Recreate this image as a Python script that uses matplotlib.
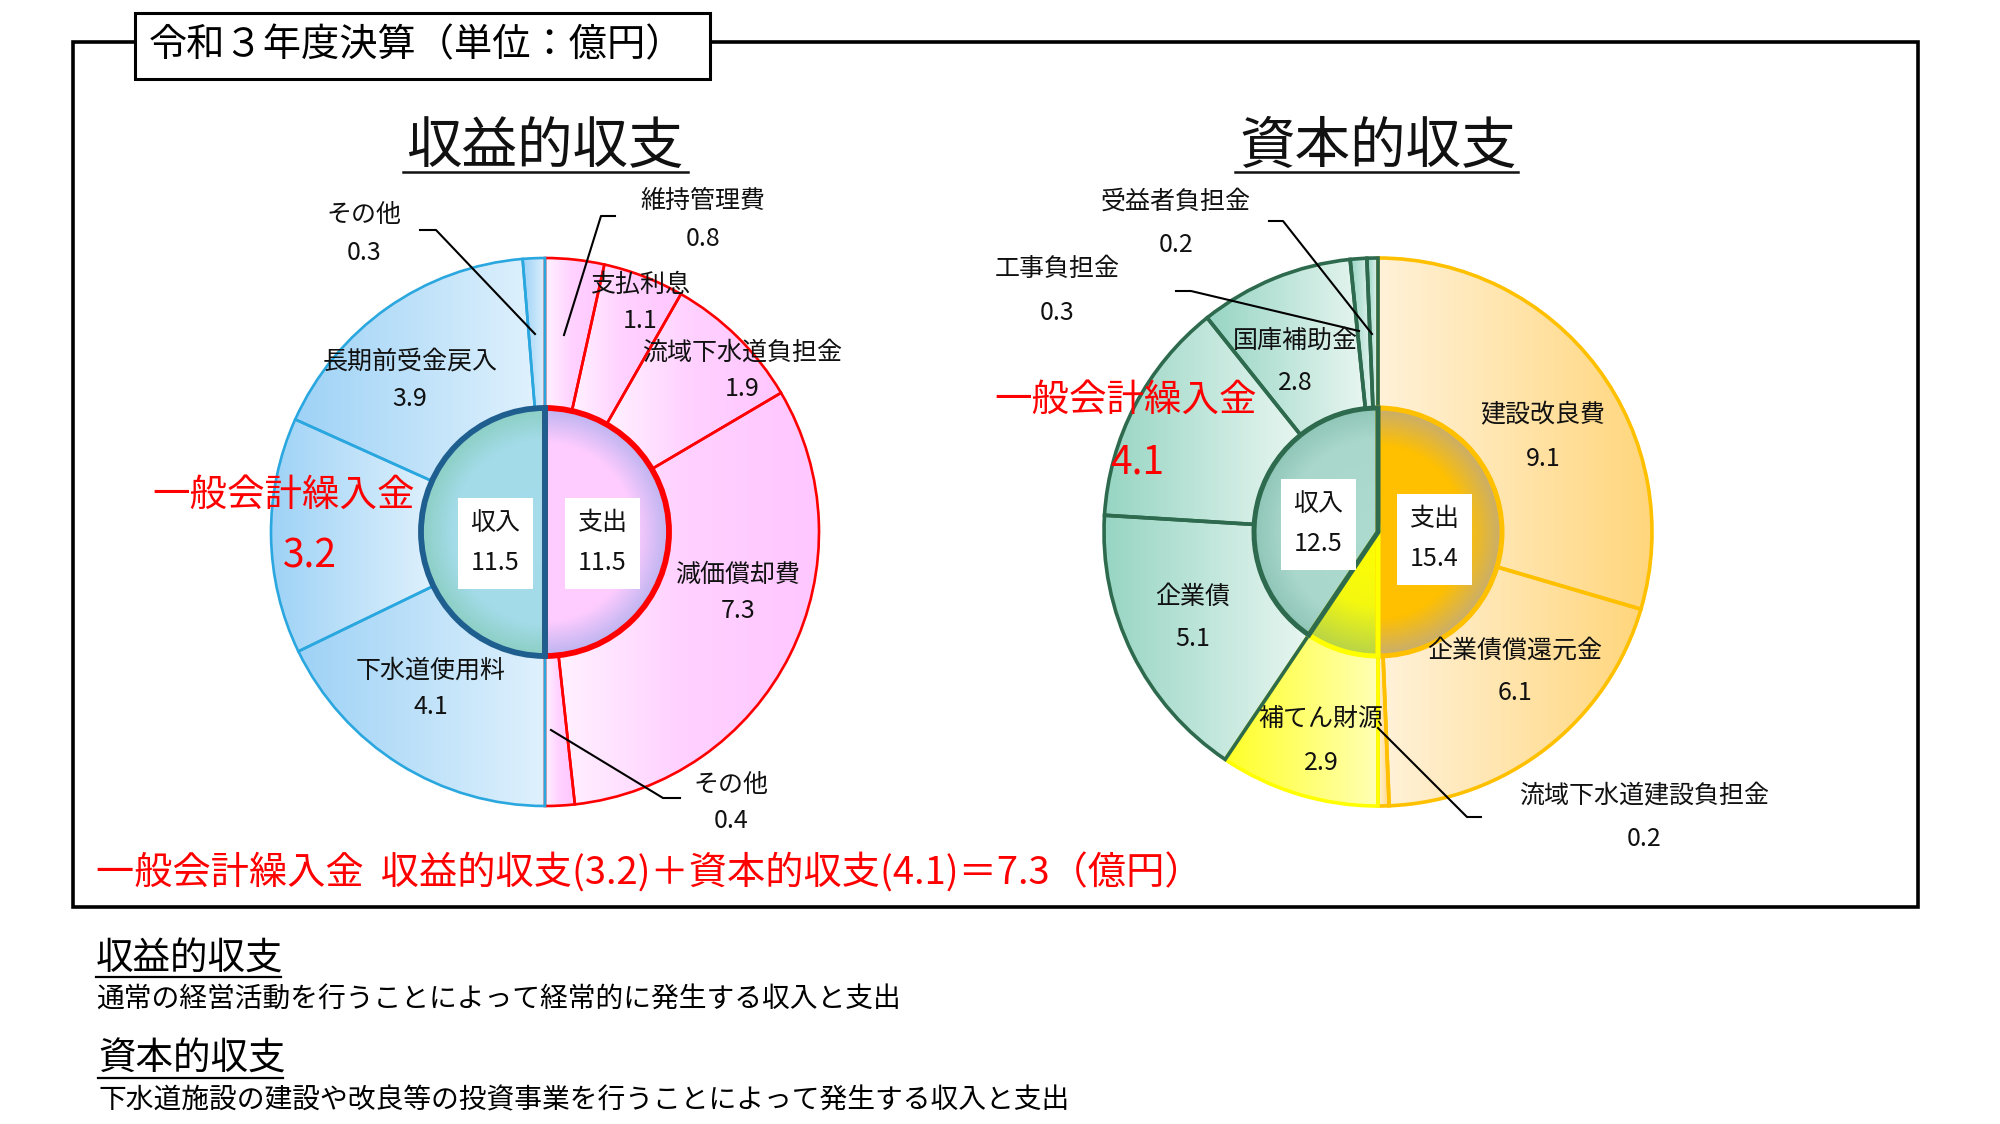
import numpy as np
import matplotlib
matplotlib.use("Agg")
import matplotlib.pyplot as plt
from matplotlib.colors import LinearSegmentedColormap
from matplotlib.patches import Rectangle

plt.rcParams['font.family'] = ['Noto Sans CJK JP', 'DejaVu Sans']

# 令和3年度決算（単位：億円）
# 収益的収支
rev_out_names = ['維持管理費', '支払利息', '流域下水道負担金', '減価償却費', 'その他']
rev_out_vals = [0.8, 1.1, 1.9, 7.3, 0.4]
rev_in_names = ['下水道使用料', '一般会計繰入金', '長期前受金戻入', 'その他']
rev_in_vals = [4.1, 3.2, 3.9, 0.3]

# 資本的収支
cap_out_names = ['建設改良費', '企業債償還元金', '流域下水道建設負担金']
cap_out_vals = [9.1, 6.1, 0.2]
cap_fill_name = '補てん財源'
cap_fill_val = 2.9
cap_in_names = ['企業債', '一般会計繰入金', '国庫補助金', '工事負担金', '受益者負担金']
cap_in_vals = [5.1, 4.1, 2.8, 0.3, 0.2]

W, H = 2000, 1124
R_OUT, R_IN = 274, 124
C1 = (545, 532)
C2 = (1378, 532)

fig = plt.figure(figsize=(W / 100, H / 100), dpi=100)
ax = fig.add_axes([0, 0, 1, 1])


def fill_gradient(patch, colors, radial=None, z=2):
    bb = patch.get_path().get_extents()
    cmap = LinearSegmentedColormap.from_list('g', colors)
    if radial is None:
        arr = np.linspace(0, 1, 256)[None, :]
    else:
        cx, cy, r = radial
        X, Y = np.meshgrid(np.linspace(bb.x0, bb.x1, 200), np.linspace(bb.y0, bb.y1, 200))
        arr = np.clip(np.hypot(X - cx, Y - cy) / r, 0, 1)
    im = ax.imshow(arr, cmap=cmap, vmin=0, vmax=1, origin='lower',
                   extent=(bb.x0, bb.x1, bb.y0, bb.y1), aspect='auto',
                   interpolation='bilinear', zorder=z)
    im.set_clip_path(patch)
    patch.set_facecolor('none')
    patch.set_zorder(z + 0.5)


def ring(center, vals, fills, edges, lw):
    # y axis is inverted, so startangle -90 + counterclock draws clockwise from 12 o'clock
    wedges, _ = ax.pie(vals, center=center, radius=R_OUT, startangle=-90, counterclock=True,
                       wedgeprops=dict(width=R_OUT - R_IN, linewidth=lw), frame=True)
    for w, f, e in zip(wedges, fills, edges):
        w.set_edgecolor(e)
        fill_gradient(w, f, z=2)
    return wedges


def disc(center, vals, fills, edges, lw):
    wedges, _ = ax.pie(vals, center=center, radius=R_IN, startangle=-90, counterclock=True,
                       wedgeprops=dict(linewidth=lw), frame=True)
    for w, f, e in zip(wedges, fills, edges):
        w.set_edgecolor(e)
        fill_gradient(w, f, radial=(center[0], center[1], R_IN), z=4)
    return wedges


BLUE = ['#9ed2f6', '#dff1fd']
PINK = [(0, '#fff2ff'), (0.45, '#ffd2ff'), (1, '#ffc6ff')]
TEAL = ['#97d5c3', '#e8f6f1']
ORANGE = ['#fff2d9', '#ffd67c']
YELLOW = ['#ffff28', '#ffffb4']

# ---- 収益的収支 ----
ring(C1, rev_out_vals + rev_in_vals,
     [PINK] * len(rev_out_vals) + [BLUE] * len(rev_in_vals),
     ['#ff0000'] * len(rev_out_vals) + ['#2aa7df'] * len(rev_in_vals), 1.9)
disc(C1, [sum(rev_out_vals), sum(rev_in_vals)],
     [[(0, '#ffccff'), (0.72, '#ffccff'), (1, '#bdb4f0')],
      [(0, '#a6dcec'), (0.75, '#a3dbe8'), (1, '#8ccfc4')]],
     ['#ff0000', '#1f5f8f'], 4.2)

# ---- 資本的収支 ----
ring(C2, cap_out_vals + [cap_fill_val] + cap_in_vals,
     [ORANGE] * len(cap_out_vals) + [YELLOW] + [TEAL] * len(cap_in_vals),
     ['#ffc000'] * len(cap_out_vals) + ['#ffff00'] + ['#2e6a4e'] * len(cap_in_vals), 2.6)
disc(C2, [sum(cap_out_vals), cap_fill_val, sum(cap_in_vals)],
     [[(0, '#ffc000'), (0.7, '#ffc000'), (1, '#c9ae6e')],
      [(0, '#ffff00'), (0.6, '#f4f810'), (1, '#b8d448')],
      [(0, '#aedbd0'), (0.75, '#a9d7cb'), (1, '#8fc6b8')]],
     ['#ffc000', '#ffff00', '#2e6a4e'], 3.6)

# ---- labels ----
LBL = dict(fontsize=18, ha='center', va='center', multialignment='center', zorder=8, color='#111111')

rev_out_pos = [(703, 220), (640, 303), (742, 371), (738, 593), (731, 803)]
rev_in_pos = [(431, 689), None, (410, 380), (364, 234)]
for n, v, p in zip(rev_out_names + rev_in_names, rev_out_vals + rev_in_vals, rev_out_pos + rev_in_pos):
    if p is None:
        continue
    ax.text(p[0], p[1], f'{n}\n{v:.1f}', linespacing=1.55, **LBL)

cap_pos = [(1543, 437), (1515, 672), (1644, 818), (1321, 741),
           (1193, 618), None, (1295, 362), (1057, 291), (1176, 223)]
for n, v, p in zip(cap_out_names + [cap_fill_name] + cap_in_names,
                   cap_out_vals + [cap_fill_val] + cap_in_vals, cap_pos):
    if p is None:
        continue
    ax.text(p[0], p[1], f'{n}\n{v:.1f}', linespacing=1.85, **LBL)

# 一般会計繰入金 (red)
ax.text(284, 495, rev_in_names[1], fontsize=27, color='#ff0000', ha='center', va='center', zorder=8)
ax.text(310, 557, f'{rev_in_vals[1]:.1f}', fontsize=28, color='#ff0000', ha='center', va='center', zorder=8)
ax.text(1126, 400, cap_in_names[1], fontsize=27, color='#ff0000', ha='center', va='center', zorder=8)
ax.text(1137, 462, f'{cap_in_vals[1]:.1f}', fontsize=28, color='#ff0000', ha='center', va='center', zorder=8)

# centre boxes
BOX = dict(boxstyle='square,pad=0.5', fc='white', ec='none')
ax.text(495, 543, f'収入\n{sum(rev_in_vals):.1f}', linespacing=1.7, bbox=BOX, **LBL)
ax.text(602, 543, f'支出\n{sum(rev_out_vals):.1f}', linespacing=1.7, bbox=BOX, **LBL)
ax.text(1318, 524, f'収入\n{sum(cap_in_vals):.1f}', linespacing=1.7, bbox=BOX, **LBL)
ax.text(1434, 539, f'支出\n{sum(cap_out_vals):.1f}', linespacing=1.7, bbox=BOX, **LBL)

# leader lines
leaders = [
    [(420, 230), (436, 230), (535, 334)],
    [(615, 216), (601, 216), (564, 335)],
    [(551, 730), (663, 798), (680, 798)],
    [(1269, 221), (1283, 221), (1372, 334)],
    [(1176, 291), (1191, 291), (1359, 331)],
    [(1378, 728), (1467, 817), (1481, 817)],
]
for pts in leaders:
    xs, ys = zip(*pts)
    ax.plot(xs, ys, color='black', lw=1.5, zorder=7)

# titles
ax.text(545, 147, '収益的収支', fontsize=40, ha='center', va='center', color='#111111')
ax.plot([403, 688], [172, 172], color='#111111', lw=1.8)
ax.text(1378, 147, '資本的収支', fontsize=40, ha='center', va='center', color='#111111')
ax.plot([1235, 1518], [172, 172], color='#111111', lw=1.8)

# frames
ax.add_patch(Rectangle((73, 42), 1845, 865, fill=False, ec='black', lw=2.6, zorder=1))
ax.add_patch(Rectangle((135, 13), 575, 66, fc='white', ec='black', lw=2.2, zorder=9))
ax.text(416, 46, '令和３年度決算（単位：億円）', fontsize=27.5, ha='center', va='center', zorder=10)

# bottom notes
ax.text(96, 874, '一般会計繰入金  収益的収支(3.2)＋資本的収支(4.1)＝7.3（億円）',
        fontsize=27.5, color='#ff0000', ha='left', va='center')
ax.text(96, 959, '収益的収支', fontsize=27, ha='left', va='center')
ax.plot([96, 281], [977, 977], color='black', lw=1.6)
ax.text(96, 1000, '通常の経営活動を行うことによって経常的に発生する収入と支出', fontsize=20, ha='left', va='center')
ax.text(98, 1059, '資本的収支', fontsize=27, ha='left', va='center')
ax.plot([98, 283], [1078, 1078], color='black', lw=1.6)
ax.text(98, 1100, '下水道施設の建設や改良等の投資事業を行うことによって発生する収入と支出', fontsize=20, ha='left', va='center')

ax.set_xlim(0, W)
ax.set_ylim(H, 0)
ax.set_aspect('auto')
ax.axis('off')
fig.savefig('out.png', dpi=100)
